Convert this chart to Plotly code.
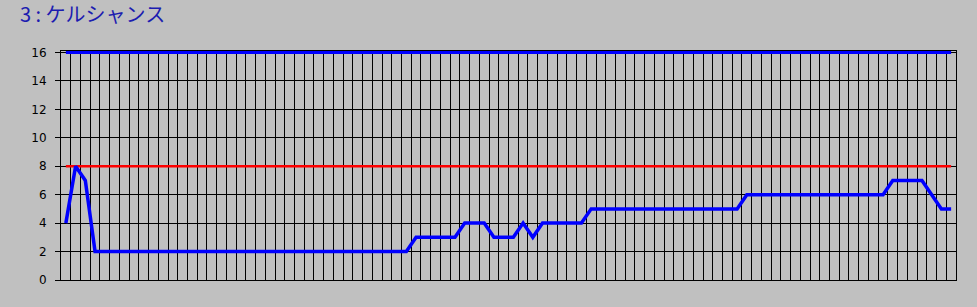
import plotly.graph_objects as go

# ---- data ----
title_text = "3 : ケルシャンス"
values = [4, 8, 7,
          2, 2, 2, 2, 2, 2, 2, 2, 2, 2, 2, 2, 2, 2, 2, 2, 2, 2, 2, 2, 2, 2, 2, 2, 2, 2, 2, 2, 2, 2, 2, 2, 2,
          3, 3, 3, 3, 3,
          4, 4, 4,
          3, 3, 3,
          4, 3,
          4, 4, 4, 4, 4,
          5, 5, 5, 5, 5, 5, 5, 5, 5, 5, 5, 5, 5, 5, 5, 5,
          6, 6, 6, 6, 6, 6, 6, 6, 6, 6, 6, 6, 6, 6, 6,
          7, 7, 7, 7,
          6, 5, 5]
upper_limit = [16] * len(values)
mid_limit = [8] * len(values)
categories = list(range(len(values)))
y_ticks = [0, 2, 4, 6, 8, 10, 12, 14, 16]

n = len(categories)
y_top = 16.1
px_per_unit = (280 - 52.5) / 16
top_margin = 280 - y_top * px_per_unit
plot_h = 307 - 27 - top_margin
plot_w = 977 - 61 - 20.5

fig = go.Figure()
fig.add_trace(go.Scatter(x=categories, y=upper_limit, mode="lines",
                         line=dict(color="#0000FF", width=3), hoverinfo="skip"))
fig.add_trace(go.Scatter(x=categories, y=mid_limit, mode="lines",
                         line=dict(color="#FF0000", width=2.5), hoverinfo="skip"))
fig.add_trace(go.Scatter(x=categories, y=values, mode="lines",
                         line=dict(color="#0000FF", width=3.5), hoverinfo="skip"))

fig.add_annotation(
    text=title_text, xref="paper", yref="paper",
    x=(19 - 61) / plot_w, xanchor="left",
    y=1 + (top_margin - 13.5) / plot_h, yanchor="middle",
    showarrow=False, borderpad=0,
    font=dict(family="Noto Sans CJK JP", size=20, color="#1C1CB0"),
)

fig.update_layout(
    width=977, height=307,
    margin=dict(l=61, r=20.5, t=top_margin, b=27),
    paper_bgcolor="#C0C0C0", plot_bgcolor="#C0C0C0",
    showlegend=False,
)
fig.update_xaxes(
    range=[-0.5, n - 0.5],
    tickvals=[k - 0.5 for k in range(n + 1)],
    showticklabels=False, ticks="",
    showgrid=True, gridcolor="#000000", gridwidth=1,
    showline=True, linecolor="#000000", linewidth=1, mirror=True,
    zeroline=False,
)
fig.update_yaxes(
    range=[0, y_top],
    tickvals=y_ticks, ticktext=[str(v) for v in y_ticks],
    ticks="outside", ticklen=5, tickcolor="#000000",
    showgrid=True, gridcolor="#000000", gridwidth=1,
    showline=True, linecolor="#000000", linewidth=1, mirror=True,
    zeroline=False,
    tickfont=dict(family="DejaVu Sans", size=12, color="#000000"),
    ticklabelstandoff=6,
)

fig.write_html("out.html")
